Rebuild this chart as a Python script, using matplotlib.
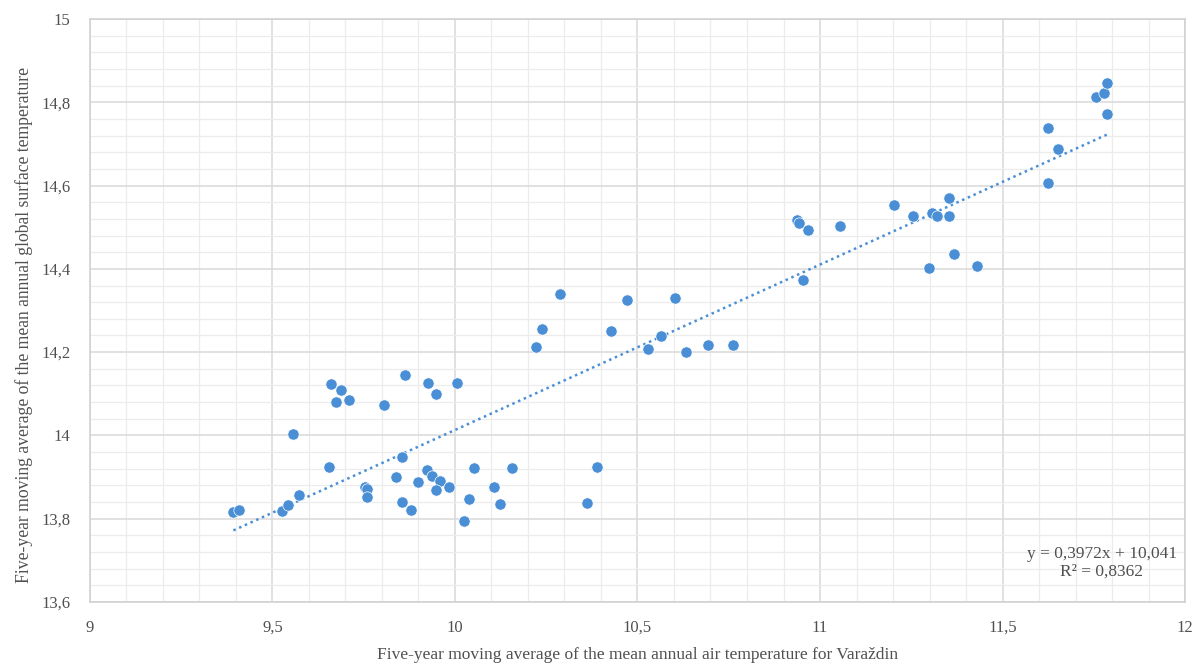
# Scatter of five-year moving averages: Varaždin air temperature vs global surface temperature
import numpy as np
import matplotlib.pyplot as plt
from matplotlib.ticker import MultipleLocator, FuncFormatter

plt.rcParams.update({
    "font.family": ["Liberation Serif", "DejaVu Serif"],
    "font.size": 11,
})

# Data
temp_varazdin = [
    9.393, 9.409, 9.525, 9.543, 9.572, 9.557, 9.659, 9.688, 9.673, 9.709,
    9.656, 9.753, 9.758, 9.758, 9.805, 9.863, 9.838, 9.855, 9.855, 9.879,
    9.898, 9.925, 9.947, 9.924, 9.938, 9.959, 9.947, 9.984, 10.006, 10.025,
    10.038, 10.052, 10.108, 10.122, 10.157, 10.221, 10.238, 10.288, 10.361, 10.389,
    10.427, 10.470, 10.529, 10.564, 10.604, 10.634, 10.694, 10.761, 10.936, 10.943,
    10.968, 10.954, 11.055, 11.203, 11.256, 11.308, 11.321, 11.354, 11.354, 11.299,
    11.368, 11.431, 11.625, 11.653, 11.625, 11.757, 11.779, 11.786, 11.785,
]
temp_global = [
    13.816, 13.822, 13.819, 13.832, 13.857, 14.004, 14.124, 14.109, 14.081, 14.086,
    13.924, 13.875, 13.871, 13.851, 14.072, 14.146, 13.899, 13.949, 13.841, 13.822,
    13.887, 14.127, 14.099, 13.918, 13.903, 13.891, 13.870, 13.875, 14.127, 13.795,
    13.847, 13.921, 13.875, 13.835, 13.921, 14.213, 14.256, 14.339, 13.838, 13.924,
    14.251, 14.326, 14.207, 14.238, 14.330, 14.201, 14.216, 14.216, 14.518, 14.511,
    14.493, 14.374, 14.503, 14.554, 14.527, 14.533, 14.527, 14.570, 14.527, 14.403,
    14.435, 14.407, 14.738, 14.687, 14.606, 14.813, 14.822, 14.846, 14.772,
]

# Linear trendline as given in the chart
slope = 0.3972
intercept = 10.041
r_squared = 0.8362

x_label = "Five-year moving average of the mean annual air temperature for Varaždin"
y_label = "Five-year moving average of the mean annual global surface temperature"

blue = "#4a8fd6"
text_col = "#505050"


def comma_fmt(v, pos):
    return "{:g}".format(round(v, 2)).replace(".", ",")


fig = plt.figure(figsize=(12.01, 6.67), dpi=100)
ax = fig.add_axes([0.0749, 0.0975, 0.9118, 0.874])

ax.set_xlim(9, 12)
ax.set_ylim(13.6, 15)
ax.xaxis.set_major_locator(MultipleLocator(0.5))
ax.xaxis.set_minor_locator(MultipleLocator(0.1))
ax.yaxis.set_major_locator(MultipleLocator(0.2))
ax.yaxis.set_minor_locator(MultipleLocator(0.04))
ax.xaxis.set_major_formatter(FuncFormatter(comma_fmt))
ax.yaxis.set_major_formatter(FuncFormatter(comma_fmt))

ax.grid(True, which="major", color="#d9d9d9", linewidth=1.1)
ax.grid(True, which="minor", color="#ececec", linewidth=0.9)
ax.set_axisbelow(True)
ax.tick_params(which="both", length=0, labelsize=12, colors=text_col)
ax.tick_params(axis="x", pad=13)
ax.tick_params(axis="y", pad=14)
for sp in ax.spines.values():
    sp.set_color("#d0d0d0")
    sp.set_linewidth(1.1)

# Points
ax.scatter(temp_varazdin, temp_global, s=66, color=blue,
           edgecolors="white", linewidths=0.5, zorder=3)

# Trendline over the data range
x_tr = np.array([min(temp_varazdin), max(temp_varazdin)])
ax.plot(x_tr, slope * x_tr + intercept, color=blue, linewidth=1.8,
        linestyle=(0, (1, 1.5)), zorder=2)

eq_text = "y = {}x + {}\nR² = {}".format(
    str(slope).replace(".", ","), str(intercept).replace(".", ","),
    str(r_squared).replace(".", ","))
ax.text(0.924, 0.067, eq_text, transform=ax.transAxes, ha="center",
        va="center", multialignment="center", fontsize=12.5, color=text_col,
        linespacing=1.1)

ax.set_xlabel(x_label, fontsize=12.5, color=text_col, labelpad=8)
ax.set_ylabel(y_label, fontsize=12.7, color=text_col)
ax.yaxis.set_label_coords(-0.052, 0.475)

fig.savefig("out.png", dpi=100)
